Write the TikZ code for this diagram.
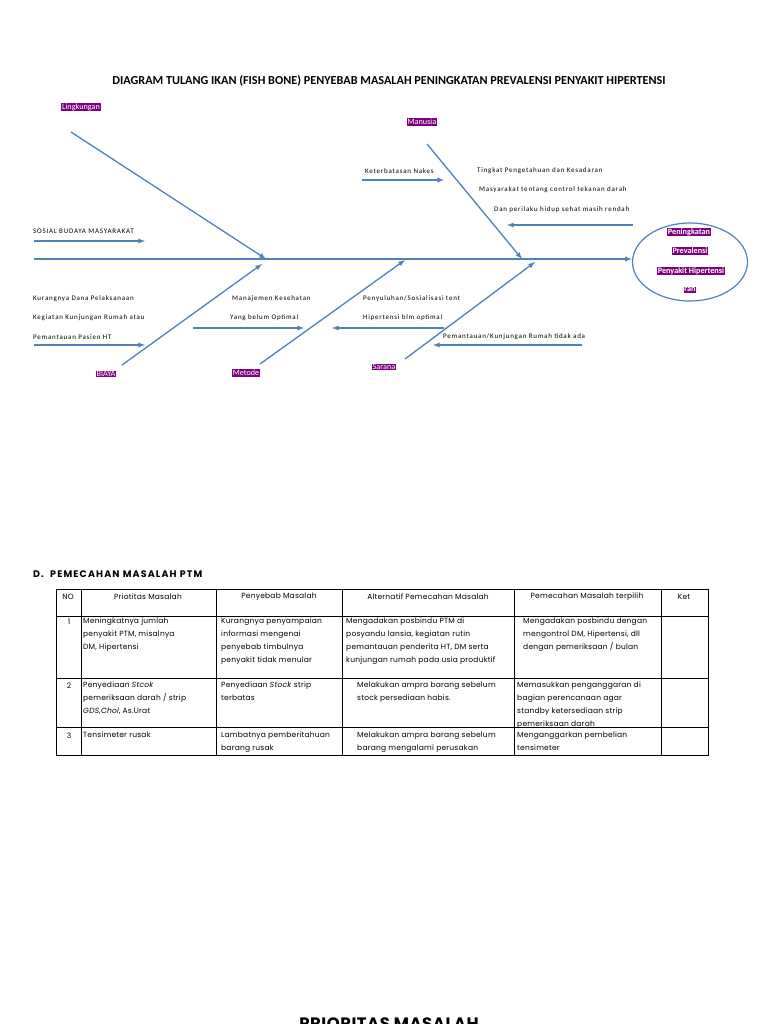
\documentclass[tikz,border=0pt]{standalone}
\usepackage{fontspec}
\setmainfont{Carlito}
\newfontfamily\bonefam[LetterSpace=11]{Carlito}
\newfontfamily\cellfam[LetterSpace=3]{Poppins}
\newfontfamily\headfam[LetterSpace=12]{Poppins}
\usetikzlibrary{shapes.geometric}

\definecolor{bonecol}{HTML}{4F81BD}
\definecolor{tagcol}{HTML}{7F007F}
\newcommand{\titlefont}{\bfseries\fontsize{12.2}{14}\selectfont}
\newcommand{\bonefont}{\bonefam\fontsize{7}{8}\selectfont}
\newcommand{\tagfont}{\fontsize{8.2}{9}\selectfont}
\newcommand{\cellfont}{\cellfam\fontsize{7.5}{13}\selectfont}

\begin{document}
\begin{tikzpicture}[x=1pt, y=-1pt, bone/.style={draw=bonecol, line width=1.3pt, -latex}, tag/.style={fill=tagcol, text=white, font=\tagfont, inner sep=0.7pt}, cause/.style={font=\bonefont, inner sep=0pt, anchor=west}, cell/.style={font=\cellfont, anchor=north west, align=left, inner sep=0pt}, head/.style={font=\cellfont, inner sep=0pt}]
                \fill[white] (0,0) rectangle (768,1024);
                \useasboundingbox (0,0) rectangle (768,1024);
                \node[font=\titlefont] (title) at (389,81) {DIAGRAM TULANG IKAN (FISH BONE) PENYEBAB MASALAH PENINGKATAN PREVALENSI PENYAKIT HIPERTENSI};
                % head of the fish
                \node[draw=bonecol, line width=1.2pt, ellipse, minimum width=115pt, minimum height=78pt] (effect) at (690,262) {};
                \node[tag, font=\tagfont\bfseries] (eff1) at (689,232) {Peningkatan};
                \node[tag, font=\tagfont\bfseries] (eff2) at (690,251) {Prevalensi};
                \node[tag, font=\tagfont\bfseries] (eff3) at (691,271) {Penyakit Hipertensi};
                \node[tag, font=\tagfont\bfseries] (eff4) at (690,290) {ran};
                % spine
                \coordinate (tail) at (34,259);
                \draw[bone] (tail) -- (tail -| effect.west);
                % categories
                \node[tag] (lingk) at (81,107) {Lingkungan};
                \node[tag] (manusia) at (422,122) {Manusia};
                \node[tag] (biaya) at (106,374) {BIAYA};
                \node[tag] (metode) at (246,373) {Metode};
                \node[tag] (sarana) at (384,367) {Sarana};
                \coordinate (lingk0) at (71,132);   \coordinate (lingk1) at (266,259);
                \coordinate (manusia0) at (427,144); \coordinate (manusia1) at (522,259);
                \coordinate (biaya0) at (122,365);  \coordinate (biaya1) at (262,264);
                \coordinate (metode0) at (260,364); \coordinate (metode1) at (405,260);
                \coordinate (sarana0) at (405,359); \coordinate (sarana1) at (535,262);
                \foreach \b in {lingk, manusia, biaya, metode, sarana}
                    \draw[bone] (\b0) -- (\b1);
                % causes
                \node[cause] (sosial) at (33,231) {SOSIAL BUDAYA MASYARAKAT};
                \node[cause] (nakes) at (365,171) {Keterbatasan Nakes};
                \node[cause] (tahu1) at (477,171) {Tingkat Pengetahuan dan Kesadaran};
                \node[cause] (tahu2) at (479,190) {Masyarakat tentang control tekanan darah};
                \node[cause] (tahu3) at (494,210) {Dan perilaku hidup sehat masih rendah};
                \node[cause] (dana1) at (33,299) {Kurangnya Dana Pelaksanaan};
                \node[cause] (dana2) at (33,318) {Kegiatan Kunjungan Rumah atau};
                \node[cause] (dana3) at (33,337) {Pemantauan Pasien HT};
                \node[cause] (manaj1) at (232,299) {Manajemen Kesehatan};
                \node[cause] (manaj2) at (230,318) {Yang belum Optimal};
                \node[cause] (suluh1) at (363,299) {Penyuluhan/Sosialisasi tent};
                \node[cause] (suluh2) at (363,318) {Hipertensi blm optimal};
                \node[cause] (pantau) at (443,337) {Pemantauan/Kunjungan Rumah tidak ada};
                \coordinate (sosial0) at (34,241);  \coordinate (sosial1) at (145,241);
                \coordinate (nakes0) at (362,180);  \coordinate (nakes1) at (444,180);
                \coordinate (tahu0) at (633,225);   \coordinate (tahu4) at (507,225);
                \coordinate (dana0) at (34,345);    \coordinate (dana4) at (145,345);
                \coordinate (manaj0) at (193,328);  \coordinate (manaj3) at (304,328);
                \coordinate (suluh0) at (444,328);  \coordinate (suluh3) at (332,328);
                \coordinate (pantau0) at (582,345); \coordinate (pantau1) at (433,345);
                \draw[bone] (sosial0) -- (sosial1);
                \draw[bone] (nakes0) -- (nakes1);
                \draw[bone] (tahu0) -- (tahu4);
                \draw[bone] (dana0) -- (dana4);
                \draw[bone] (manaj0) -- (manaj3);
                \draw[bone] (suluh0) -- (suluh3);
                \draw[bone] (pantau0) -- (pantau1);
                % table
                \node[font=\headfam\bfseries\fontsize{9.5}{11}\selectfont, anchor=west, inner sep=0pt] (ptm) at (33,574) {D.\ \ PEMECAHAN MASALAH PTM};
                \draw[line width=0.6pt] (56,589) rectangle (708,755);
                \foreach \y in {616, 678, 727}
                    \draw[line width=0.6pt] (56,\y) -- (708,\y);
                \foreach \x in {81, 216, 342, 514, 661}
                    \draw[line width=0.6pt] (\x,589) -- (\x,755);
                \node[head] (hno) at (68,597) {NO};
                \node[head] (hprio) at (148,597) {Priotitas Masalah};
                \node[head] (hsebab) at (279,597) {Penyebab Masalah};
                \node[head] (halt) at (428,597) {Alternatif Pemecahan Masalah};
                \node[head] (hpilih) at (587,597) {Pemecahan Masalah terpilih};
                \node[head] (hket) at (684,597) {Ket};
                % row 1
                \node[head] (no1) at (69,622) {1};
                \node[cell] (prio1) at (83,618) {Meningkatnya jumlah\\penyakit PTM, misalnya\\DM, Hipertensi};
                \node[cell] (sebab1) at (221,618) {Kurangnya penyampaian\\informasi mengenai\\penyebab timbulnya\\penyakit tidak menular};
                \node[cell] (alt1) at (346,618) {Mengadakan posbindu PTM di\\posyandu lansia, kegiatan rutin\\pemantauan penderita HT, DM serta\\kunjungan rumah pada usia produktif};
                \node[cell] (pilih1) at (523,618) {Mengadakan posbindu dengan\\mengontrol DM, Hipertensi, dll\\dengan pemeriksaan / bulan};
                % row 2
                \node[head] (no2) at (69,686) {2};
                \node[cell] (prio2) at (83,682) {Penyediaan \textit{Stcok}\\pemeriksaan darah / strip\\\textit{GDS,Chol}, As.Urat};
                \node[cell] (sebab2) at (221,682) {Penyediaan \textit{Stock} strip\\terbatas};
                \node[cell] (alt2) at (357,682) {Melakukan ampra barang sebelum\\stock persediaan habis.};
                \node[cell] (pilih2) at (517,682) {Memasukkan penganggaran di\\bagian perencanaan agar\\standby ketersediaan strip\\pemeriksaan darah};
                % row 3
                \node[head] (no3) at (69,736) {3};
                \node[cell] (prio3) at (83,732) {Tensimeter rusak};
                \node[cell] (sebab3) at (221,732) {Lambatnya pemberitahuan\\barang rusak};
                \node[cell] (alt3) at (357,732) {Melakukan ampra barang sebelum\\barang mengalami perusakan};
                \node[cell] (pilih3) at (517,732) {Menganggarkan pembelian\\tensimeter};
                % next heading, cut by the page
                \node[font=\cellfam\bfseries\fontsize{16.5}{20}\selectfont, anchor=base, inner sep=0pt] (prioritas) at (389,1029) {PRIORITAS MASALAH};
            \end{tikzpicture}
\end{document}
